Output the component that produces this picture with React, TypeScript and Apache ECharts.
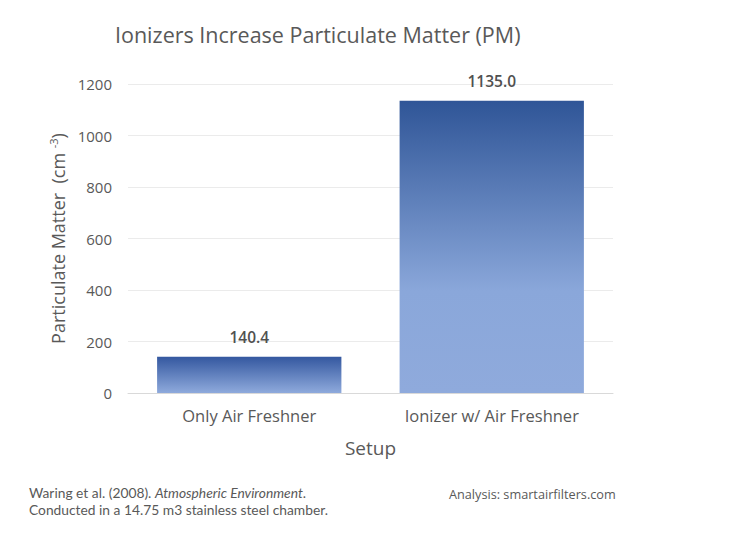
import React, { useEffect, useRef } from "react";
import * as echarts from "echarts";

const categories = ["Only Air Freshner", "Ionizer w/ Air Freshner"];
const values = [140.4, 1135.0];
const yTicks = [0, 200, 400, 600, 800, 1000, 1200];
const titleText = "Ionizers Increase Particulate Matter (PM)";
const sourceLine1 = "Waring et al. (2008). {i|Atmospheric Environment}.";
const sourceLine2 = "Conducted in a 14.75 m3 stainless steel chamber.";
const analysisText = "Analysis: smartairfilters.com";

const FONT = "'Open Sans', Lato, sans-serif";
const NOTE_FONT = "Lato, 'Open Sans', sans-serif";
const GREY = "#595959";

export default function App() {
  const ref = useRef<HTMLDivElement>(null);
  useEffect(() => {
    if (!ref.current) return;
    const chart = echarts.init(ref.current, undefined, { renderer: "svg" });
    const grad = new echarts.graphic.LinearGradient(0, 0, 0, 1, [
      { offset: 0, color: "#2F5597" },
      { offset: 0.65, color: "#8AA7DA" },
      { offset: 1, color: "#8FAADC" },
    ]);
    const gradSmall = new echarts.graphic.LinearGradient(0, 0, 0, 1, [
      { offset: 0, color: "#3458A0" },
      { offset: 1, color: "#8FAADC" },
    ]);
    chart.setOption({
      animation: false,
      backgroundColor: "#ffffff",
      textStyle: { fontFamily: FONT },
      title: {
        text: titleText,
        left: 110,
        top: 18,
        textStyle: { fontFamily: FONT, fontSize: 21.5, fontWeight: "normal", color: GREY },
      },
      grid: { left: 128, right: 120, top: 84, bottom: 141 },
      xAxis: {
        type: "category",
        data: categories,
        name: "Setup",
        nameLocation: "middle",
        nameGap: 45,
        nameTextStyle: { fontFamily: FONT, fontSize: 19, color: GREY },
        axisLine: { lineStyle: { color: "#D9D9D9", width: 1 } },
        axisTick: { show: false },
        axisLabel: { fontFamily: FONT, fontSize: 16.5, color: GREY, margin: 14 },
      },
      yAxis: {
        type: "value",
        min: 0,
        max: 1200,
        interval: 200,
        name: "Particulate Matter  (cm {sup|-3})",
        nameLocation: "middle",
        nameGap: 58,
        nameTextStyle: {
          fontFamily: FONT,
          fontSize: 18,
          color: GREY,
          rich: { sup: { fontFamily: FONT, fontSize: 11, color: GREY, verticalAlign: "top", padding: [0, 0, 9, 0] } },
        },
        axisLine: { show: false },
        axisTick: { show: false },
        axisLabel: {
          fontFamily: FONT,
          fontSize: 15,
          color: GREY,
          margin: 16,
          formatter: (v: number) => (yTicks.includes(v) ? String(v) : ""),
        },
        splitLine: { lineStyle: { color: "#EBEBEB", width: 1 } },
      },
      series: [
        {
          type: "bar",
          barWidth: "76%",
          data: values.map((v, i) => ({
            value: v,
            itemStyle: { color: i === 0 ? gradSmall : grad },
          })),
          label: {
            show: true,
            position: "top",
            distance: 12,
            fontFamily: FONT,
            fontSize: 15.5,
            fontWeight: 600,
            color: "#505050",
            formatter: (p: any) => Number(p.value).toFixed(1),
          },
        },
      ],
      graphic: [
        {
          type: "text",
          left: 29,
          top: 485,
          style: {
            text: sourceLine1,
            fontFamily: NOTE_FONT,
            fontSize: 13.8,
            fill: GREY,
            rich: { i: { fontFamily: NOTE_FONT, fontSize: 13.8, fontStyle: "italic", fill: GREY } },
          },
        },
        {
          type: "text",
          left: 29,
          top: 502,
          style: { text: sourceLine2, fontFamily: NOTE_FONT, fontSize: 13.8, fill: GREY },
        },
        {
          type: "text",
          left: 449,
          top: 487,
          style: { text: analysisText, fontFamily: FONT, fontSize: 12.7, fill: GREY },
        },
      ],
    });
    return () => chart.dispose();
  }, []);
  return <div ref={ref} style={{ width: 733, height: 534, position: "absolute", left: 0, top: 0 }} />;
}
